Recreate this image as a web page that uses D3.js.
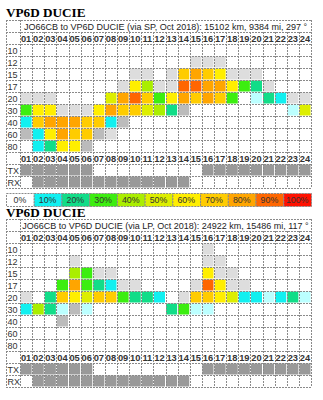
<!DOCTYPE html>
<html><head><meta charset="utf-8">
<script src="https://cdn.jsdelivr.net/npm/d3@7"></script>
<style>body{margin:0;background:#fff}svg{display:block}</style>
</head><body>
<script>
// ---- data ----
const hours = d3.range(1, 25).map(h => String(h).padStart(2, "0"));
const rowLabels = ["10", "12", "15", "17", "20", "30", "40", "60", "80"];
// cell codes per hour: '.' none, 'g' light grey, 'G' grey, 'c' pale cyan, '1'..'9' = 10..90%, 'X' = 100%
const spCells = [
  "........................",
  "..............ggg.......",
  ".........gg.g7876ggg....",
  "........g64gg9988632g...",
  "ggg....58973687873.c21gg",
  "366ggg6877542G........c5",
  "17888771G...............",
  "G16877Gg................",
  ".1266G.................."
];
const lpCells = [
  "...............g........",
  "....g..........gg.......",
  "....43gg.......6gg......",
  "...38321gg....g96gg.....",
  "g.2765773221.g776511c12c",
  "142cGc......23cc........",
  "...G....................",
  "........................",
  "........................"
];
const txHours = "######.........#########";
const rxHours = ".#############..........";
const legendLabels = ["0%", "10%", "20%", "30%", "40%", "50%", "60%", "70%", "80%", "90%", "100%"];
const legendCodes = [".", "1", "2", "3", "4", "5", "6", "7", "8", "9", "X"];
const charts = [
  {title: "VP6D DUCIE", sub: "JO66CB to VP6D DUCIE (via SP, Oct 2018): 15102 km, 9384 mi, 297 °", cells: spCells},
  {title: "VP6D DUCIE", sub: "JO66CB to VP6D DUCIE (via LP, Oct 2018): 24922 km, 15486 mi, 117 °", cells: lpCells}
];

// ---- styles ----
const color = d3.scaleOrdinal()
  .domain([".", "1", "2", "3", "4", "5", "6", "7", "8", "9", "X", "g", "G", "c", "#"])
  .range(["#ffffff", "#11f0f0", "#11dd88", "#3cee10", "#aaee00", "#ddee00", "#ffee00",
          "#ffcc00", "#ffa500", "#ff6600", "#ff1100", "#dddddd", "#bbbbbb", "#bbffff", "#999999"]);

const W = 323, H = 400;
const svg = d3.select("body").append("svg").attr("width", W).attr("height", H);
const X0 = 6, XL = 20, X1 = 311;
const x = d3.scaleBand().domain(hours).range([XL, X1]);
const rows = ["title", "hTop", ...rowLabels, "hBot", "TX", "RX"];
const font = "'Liberation Sans', Arial, sans-serif";
const gridCol = "#8a8a8a", dash = "2,1";

function drawChart(c, top, titleY) {
  svg.append("text").attr("x", X0).attr("y", titleY)
    .attr("font-family", "'Liberation Serif', 'Times New Roman', serif")
    .attr("font-weight", "bold").attr("font-size", 13.2).attr("fill", "#000").text(c.title);
  const y = d3.scaleBand().domain(rows).range([top, top + 12 * rows.length]);
  const g = svg.append("g");
  // cells
  c.cells.forEach((str, ri) => {
    const r = rowLabels[ri];
    hours.forEach((h, i) => {
      const code = str[i];
      if (code === ".") return;
      g.append("rect").attr("x", x(h) + 0.5).attr("y", y(r) + 0.5)
        .attr("width", x.bandwidth() - 1).attr("height", y.bandwidth() - 1)
        .attr("fill", color(code));
    });
  });
  [["TX", txHours], ["RX", rxHours]].forEach(([r, str]) => {
    hours.forEach((h, i) => {
      if (str[i] !== "#") return;
      g.append("rect").attr("x", x(h) + 0.5).attr("y", y(r) + 0.5)
        .attr("width", x.bandwidth() - 1).attr("height", y.bandwidth() - 1)
        .attr("fill", color("#"));
    });
  });
  // grid
  const yTop = y("title"), yBot = y("RX") + y.bandwidth();
  rows.forEach(r => {
    g.append("line").attr("x1", X0).attr("x2", X1).attr("y1", y(r) + 0.5).attr("y2", y(r) + 0.5)
      .attr("stroke", gridCol).attr("stroke-dasharray", dash);
  });
  g.append("line").attr("x1", X0).attr("x2", X1).attr("y1", yBot + 0.5).attr("y2", yBot + 0.5)
    .attr("stroke", gridCol).attr("stroke-dasharray", dash);
  [X0, XL, X1].forEach(xx => g.append("line").attr("x1", xx + 0.5).attr("x2", xx + 0.5)
    .attr("y1", yTop).attr("y2", yBot).attr("stroke", gridCol).attr("stroke-dasharray", dash));
  hours.slice(1).forEach(h => g.append("line").attr("x1", Math.round(x(h)) + 0.5).attr("x2", Math.round(x(h)) + 0.5)
    .attr("y1", y("hTop")).attr("y2", yBot).attr("stroke", gridCol).attr("stroke-dasharray", dash));
  // texts
  g.append("text").attr("x", (XL + X1) / 2).attr("y", y("title") + 9.5).attr("text-anchor", "middle")
    .attr("font-family", font).attr("font-size", 9).attr("fill", "#222").text(c.sub);
  ["hTop", "hBot"].forEach(r => hours.forEach(h => g.append("text")
    .attr("x", x(h) + x.bandwidth() / 2).attr("y", y(r) + 9.5).attr("text-anchor", "middle")
    .attr("font-family", font).attr("font-size", 9.3).attr("font-weight", "bold").attr("fill", "#333").text(h)));
  [...rowLabels, "TX", "RX"].forEach(r => g.append("text").attr("x", X0 + 1.5).attr("y", y(r) + 9.5)
    .attr("font-family", font).attr("font-size", 9).attr("fill", "#333").text(r));
}

drawChart(charts[0], 20, 17);
drawChart(charts[1], 219, 216.5);

// legend (drawn over the second title)
const lx = d3.scaleBand().domain(legendLabels).range([X0, X1]);
const lg = svg.append("g");
lg.append("rect").attr("x", 0).attr("y", 191).attr("width", W).attr("height", 17).attr("fill", "#fff");
legendLabels.forEach((l, i) => {
  lg.append("rect").attr("x", lx(l) + 0.5).attr("y", 193.5).attr("width", lx.bandwidth()).attr("height", 13)
    .attr("fill", color(legendCodes[i])).attr("stroke", gridCol).attr("stroke-dasharray", dash);
  lg.append("text").attr("x", lx(l) + lx.bandwidth() / 2).attr("y", 202.5).attr("text-anchor", "middle")
    .attr("font-family", font).attr("font-size", 8.8).attr("fill", "#333").text(l);
});
</script>
</body></html>
